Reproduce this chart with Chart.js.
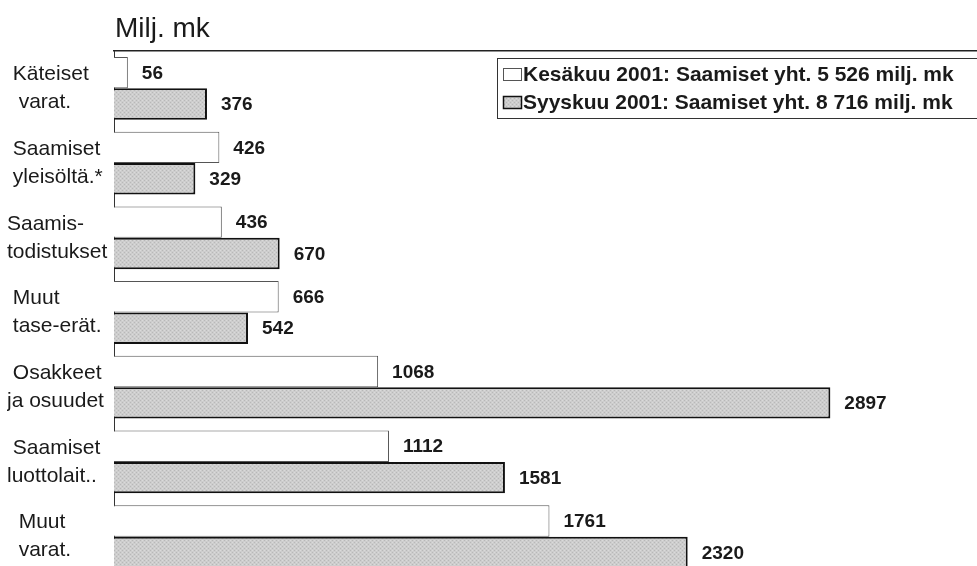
<!DOCTYPE html>
<html>
<head>
<meta charset="utf-8">
<script src="https://cdn.jsdelivr.net/npm/chart.js@4"></script>
<style>
  html, body { margin: 0; padding: 0; background: #fff; overflow: hidden; }
  #wrap { width: 977px; height: 602px; }
</style>
</head>
<body>
<div id="wrap"><canvas id="myChart" width="977" height="602"></canvas></div>
<script>
const categories = [
    ['\u00a0Käteiset', '\u00a0\u00a0varat.'],
    ['\u00a0Saamiset', '\u00a0yleisöltä.*'],
    ['Saamis-', 'todistukset'],
    ['\u00a0Muut', '\u00a0tase-erät.'],
    ['\u00a0Osakkeet', 'ja osuudet'],
    ['\u00a0Saamiset', 'luottolait..'],
    ['\u00a0\u00a0Muut', '\u00a0\u00a0varat.']
];
const kesakuu = [56, 426, 436, 666, 1068, 1112, 1761];
const syyskuu = [376, 329, 670, 542, 2897, 1581, 2320];
const seriesNames = [
    'Kesäkuu 2001: Saamiset yht. 5 526 milj. mk',
    'Syyskuu 2001: Saamiset yht. 8 716 milj. mk'
];
const unitTitle = 'Milj. mk';

const FONT = '"Liberation Sans", Arial, Helvetica, sans-serif';

// dotted grey fill like the scanned print
function greyPattern() {
    const c = document.createElement('canvas');
    c.width = 4; c.height = 4;
    const g = c.getContext('2d');
    g.fillStyle = '#cdcdcd';
    g.fillRect(0, 0, 4, 4);
    g.fillStyle = '#b8b8b8';
    g.fillRect(0, 0, 1, 1);
    g.fillRect(2, 2, 1, 1);
    g.fillStyle = '#dadada';
    g.fillRect(2, 0, 1, 1);
    g.fillRect(0, 2, 1, 1);
    return g.createPattern(c, 'repeat');
}
const greyFill = greyPattern();

const valueLabels = {
    id: 'valueLabels',
    afterDatasetsDraw(chart) {
        const ctx = chart.ctx;
        ctx.save();
        ctx.font = 'bold 19px ' + FONT;
        ctx.fillStyle = '#1a1a1a';
        ctx.textAlign = 'left';
        ctx.textBaseline = 'middle';
        chart.data.datasets.forEach((ds, i) => {
            chart.getDatasetMeta(i).data.forEach((bar, j) => {
                ctx.fillText(String(ds.data[j]), bar.x + 14, bar.y + 1);
            });
        });
        ctx.restore();
    }
};

const boxLegend = {
    id: 'boxLegend',
    afterDraw(chart) {
        const ctx = chart.ctx;
        const x0 = 497, y0 = 58;
        ctx.save();
        ctx.strokeStyle = '#333';
        ctx.lineWidth = 1;
        ctx.strokeRect(x0 + 0.5, y0 + 0.5, 500, 60);
        ctx.font = 'bold 21px ' + FONT;
        ctx.textBaseline = 'middle';
        chart.data.datasets.forEach((ds, i) => {
            const cy = 74 + i * 28;
            ctx.fillStyle = ds.backgroundColor;
            ctx.fillRect(x0 + 6, cy - 6, 19, 13);
            ctx.strokeStyle = i === 0 ? '#555' : '#111';
            ctx.lineWidth = i === 0 ? 1 : 1.5;
            ctx.strokeRect(x0 + 6.5, cy - 5.5, 18, 12);
            ctx.fillStyle = '#1a1a1a';
            ctx.fillText(ds.label, x0 + 26, cy + 1);
        });
        ctx.restore();
    }
};

const unitLabel = {
    id: 'unitLabel',
    afterDraw(chart) {
        const ctx = chart.ctx;
        ctx.save();
        ctx.font = '28px ' + FONT;
        ctx.fillStyle = '#1a1a1a';
        ctx.textBaseline = 'alphabetic';
        ctx.fillText(unitTitle, 115, 37);
        ctx.restore();
    }
};

const ctx = document.getElementById('myChart').getContext('2d');
const myChart = new Chart(ctx, {
    type: 'bar',
    data: {
        labels: categories,
        datasets: [{
            label: seriesNames[0],
            data: kesakuu,
            backgroundColor: '#ffffff',
            borderColor: '#555555',
            borderWidth: 1,
            categoryPercentage: 0.84,
            barPercentage: 1.0
        }, {
            label: seriesNames[1],
            data: syyskuu,
            backgroundColor: greyFill,
            borderColor: '#111111',
            borderWidth: 2,
            categoryPercentage: 0.84,
            barPercentage: 1.0
        }]
    },
    options: {
        indexAxis: 'y',
        responsive: false,
        animation: false,
        layout: {
            padding: { top: 51, left: 7, right: 0, bottom: 0 }
        },
        scales: {
            x: {
                position: 'top',
                min: 0,
                max: 3490,
                ticks: { display: false },
                grid: { display: false, drawTicks: false },
                border: { display: true, color: '#222', width: 1.5 },
                afterFit(scale) { scale.height = 0; }
            },
            y: {
                ticks: {
                    color: '#1a1a1a',
                    crossAlign: 'far',
                    padding: 0,
                    font: { family: FONT, size: 21, lineHeight: 1.333 }
                },
                grid: { display: false, drawTicks: false },
                border: { display: true, color: '#333', width: 1 },
                afterFit(scale) { scale.width = 107; }
            }
        },
        plugins: {
            legend: { display: false },
            tooltip: { enabled: false }
        }
    },
    plugins: [valueLabels, boxLegend, unitLabel]
});
</script>
</body>
</html>
